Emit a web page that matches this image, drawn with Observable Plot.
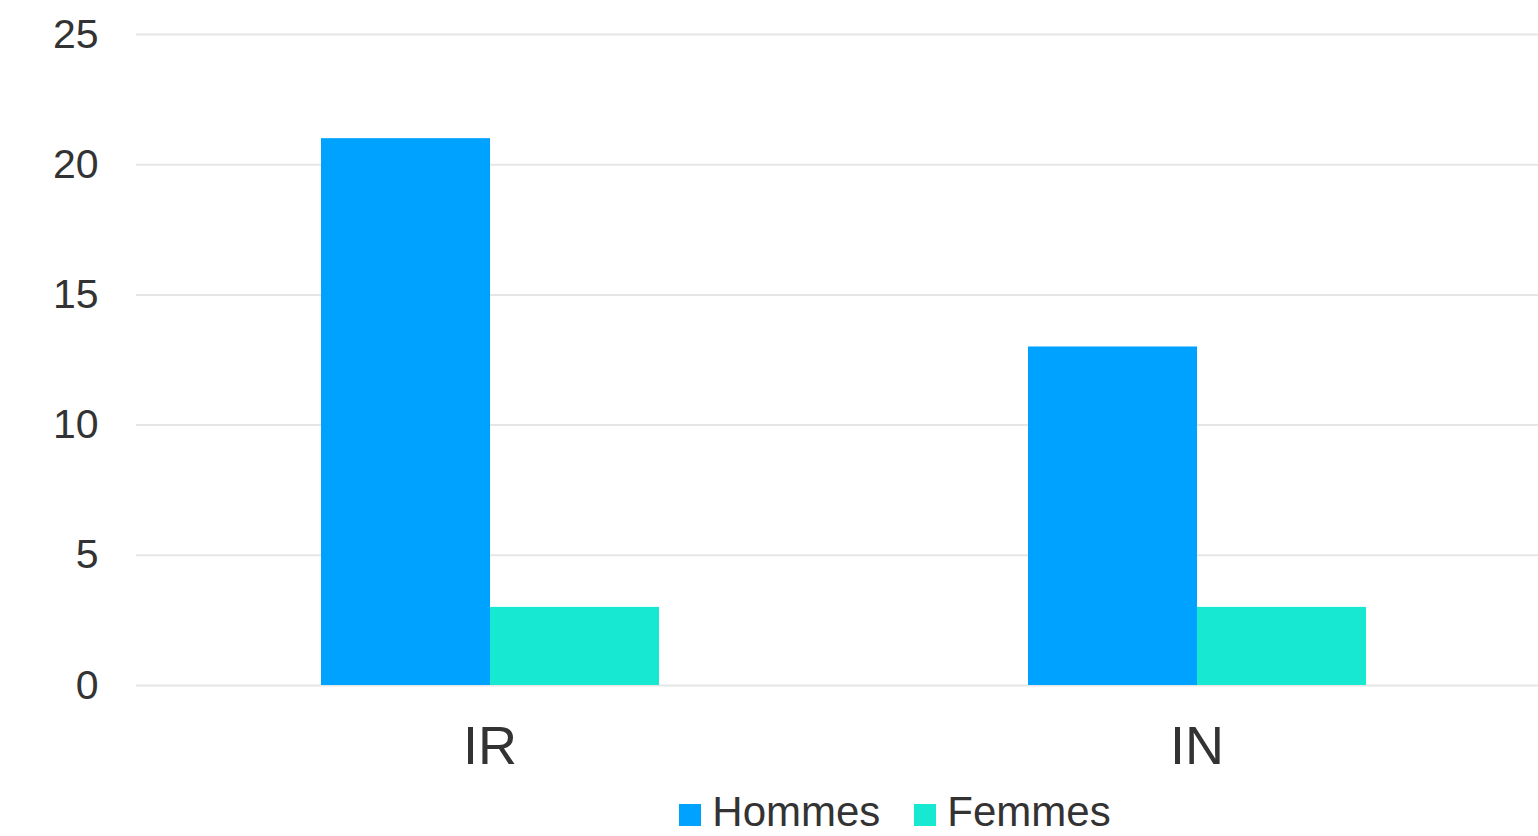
<!DOCTYPE html>
<html>
<head>
<meta charset="utf-8">
<script src="https://cdn.jsdelivr.net/npm/d3@7"></script>
<script src="https://cdn.jsdelivr.net/npm/@observablehq/plot@0.6"></script>
<style>
  html, body { margin: 0; padding: 0; background: #fff; overflow: hidden; }
  body { font-family: "Liberation Sans", Arial, sans-serif; color: #333; width: 1538px; }
  #chart { width: 1538px; height: 785px; overflow: hidden; }
  #chart svg { max-width: none !important; width: 1550px; height: 785px; display: block; }
  #legend { display: flex; justify-content: center; padding-left: 252px; box-sizing: border-box; width: 1538px; font-size: 42px; line-height: 46px; margin-top: 4px; }
  .item { display: flex; align-items: center; margin: 0 17px; }
  .sw { width: 22px; height: 22px; margin-right: 11px; margin-top: 6px; }
</style>
</head>
<body>
<div id="chart"></div>
<div id="legend"></div>
<script>
const categories = ["IR", "IN"];
const series = ["Hommes", "Femmes"];
const hommes = [21, 13];
const femmes = [3, 3];
const colors = ["#00a2ff", "#17e8d2"];
const yTicks = [0, 5, 10, 15, 20, 25];

const data = [];
categories.forEach((c, i) => {
  data.push({cat: c, serie: series[0], value: hommes[i]});
  data.push({cat: c, serie: series[1], value: femmes[i]});
});

const chart = Plot.plot({
  width: 1550,
  height: 785,
  marginLeft: 136,
  marginRight: 0,
  marginTop: 34,
  marginBottom: 100,
  style: {fontFamily: "Liberation Sans, Arial, sans-serif", color: "#333", background: "#fff", maxWidth: "none"},
  fx: {domain: categories, padding: 0, label: null},
  x: {domain: series, paddingInner: 0, paddingOuter: 1.085, axis: null},
  y: {domain: [0, 25], ticks: yTicks, label: null},
  color: {domain: series, range: colors},
  marks: [
    Plot.ruleY(yTicks, {stroke: "#e6e6e6", strokeWidth: 2}),
    Plot.barY(data, {fx: "cat", x: "serie", y: "value", fill: "serie"}),
    Plot.axisY(yTicks, {tickSize: 0, tickPadding: 38, fontSize: 41, fill: "#333", label: null}),
    Plot.axisFx({anchor: "bottom", tickSize: 0, tickPadding: 40, fontSize: 54, fill: "#333", label: null})
  ]
});
document.getElementById("chart").appendChild(chart);

const legend = document.getElementById("legend");
series.forEach((s, i) => {
  const item = document.createElement("div");
  item.className = "item";
  const sw = document.createElement("div");
  sw.className = "sw";
  sw.style.background = colors[i];
  const t = document.createElement("span");
  t.textContent = s;
  item.appendChild(sw);
  item.appendChild(t);
  legend.appendChild(item);
});
</script>
</body>
</html>
